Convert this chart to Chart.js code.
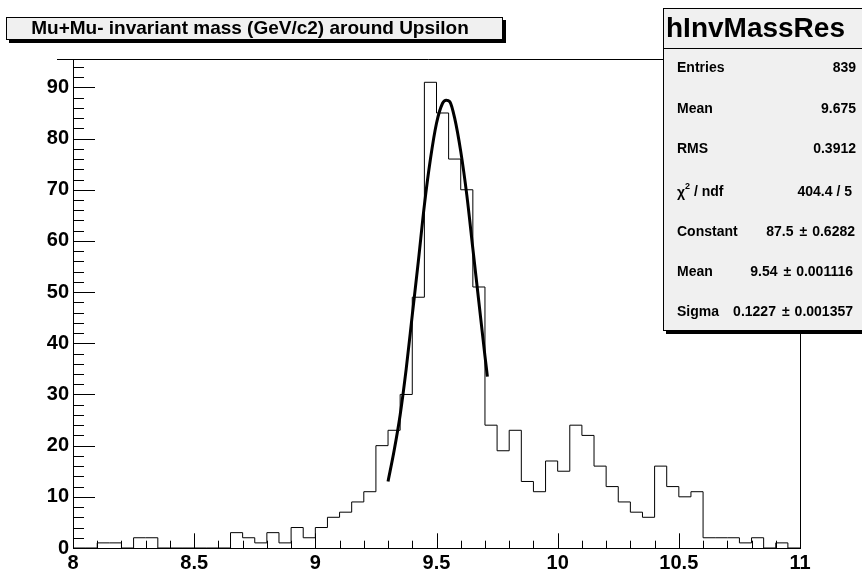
<!DOCTYPE html>
<html><head><meta charset="utf-8">
<script src="https://cdn.jsdelivr.net/npm/chart.js@4/dist/chart.umd.min.js"></script>
<style>html,body{margin:0;padding:0;background:#fff;overflow:hidden}#wrap{position:relative;width:862px;height:573px}</style>
</head><body><div id="wrap"><canvas id="c" width="862" height="573"></canvas></div>
<script>
// ---- data ----
const binEdges = [8.00,8.05,8.10,8.15,8.20,8.25,8.30,8.35,8.40,8.45,8.50,8.55,8.60,8.65,8.70,8.75,8.80,8.85,8.90,8.95,
  9.00,9.05,9.10,9.15,9.20,9.25,9.30,9.35,9.40,9.45,9.50,9.55,9.60,9.65,9.70,9.75,9.80,9.85,9.90,9.95,
  10.00,10.05,10.10,10.15,10.20,10.25,10.30,10.35,10.40,10.45,10.50,10.55,10.60,10.65,10.70,10.75,10.80,10.85,10.90,10.95,11.00];
const counts = [0,0,1,1,0,2,2,0,0,0,0,0,0,3,2,1,3,1,4,2,
  4,6,7,9,11,20,23,30,49,91,85,76,70,51,24,19,23,13,11,17,
  15,24,22,16,12,9,7,6,16,12,10,11,2,2,2,1,2,0,1,0];
const fitX = [9.300,9.325,9.350,9.375,9.400,9.425,9.450,9.475,9.500,9.525,9.540,9.555,9.575,9.600,9.625,9.650,9.675,9.700,9.710];
const fitY = [13,19,26,35,45.5,56,67,76,83,86.9,87.5,87.2,84,77.5,69,58.5,48,37.5,33.5];
const xTickValues = [8,8.5,9,9.5,10,10.5,11];
const xTickLabels = ['8','8.5','9','9.5','10','10.5','11'];
const yTickValues = [0,10,20,30,40,50,60,70,80,90];
const yTickLabels = ['0','10','20','30','40','50','60','70','80','90'];
const titleText = 'Mu+Mu- invariant mass (GeV/c2) around Upsilon';
const statsName = 'hInvMassRes';
const statsLabels = ['Entries','Mean','RMS','CHI2','Constant','Mean','Sigma'];
const statsValues = ['839','9.675','0.3912','404.4 / 5','87.5','9.54','0.1227'];
const statsErrors = ['','','','','0.6282','0.001116','0.001357'];

const FONT = "'Liberation Sans', Arial, Helvetica, sans-serif";
const histData = counts.map((v,i)=>({x:binEdges[i], y:v}));
histData.push({x:binEdges[binEdges.length-1], y:counts[counts.length-1]});
const fitData = fitX.map((x,i)=>({x, y:fitY[i]}));

const decor = {
  id:'decor',
  beforeDatasetsDraw(chart){
    const {ctx, chartArea:a, scales:{x,y}} = chart;
    ctx.save();
    ctx.strokeStyle='#000'; ctx.lineWidth=1;
    // frame top and right
    ctx.beginPath();
    ctx.moveTo(57, Math.round(a.top)+0.5); ctx.lineTo(a.right+0.5, Math.round(a.top)+0.5);
    ctx.moveTo(Math.round(a.right)+0.5, a.top); ctx.lineTo(Math.round(a.right)+0.5, a.bottom);
    ctx.stroke();
    // x ticks (inward)
    ctx.beginPath();
    for(let k=0;k<=30;k++){
      const v=8+k*0.1; const px=Math.round(x.getPixelForValue(v))+0.5;
      const len = (k%5===0)?14.7:7.3;
      ctx.moveTo(px,a.bottom); ctx.lineTo(px,a.bottom-len);
    }
    // y ticks (inward)
    for(let k=0;k<=47;k++){
      const v=k*2; if(v>y.max) break;
      const py=Math.round(y.getPixelForValue(v))+0.5;
      const len = (k%5===0)?22:11;
      ctx.moveTo(a.left,py); ctx.lineTo(a.left+len,py);
    }
    ctx.stroke();
    ctx.restore();
  },
  afterDraw(chart){
    const {ctx} = chart;
    ctx.save();
    // ---- title box ----
    ctx.fillStyle='#000';
    ctx.fillRect(9,20,497,23); // shadow
    ctx.fillStyle='#f0f0f0';
    ctx.fillRect(6,17,497,23);
    ctx.strokeStyle='#000'; ctx.lineWidth=1;
    ctx.strokeRect(6.5,17.5,496,22);
    ctx.fillStyle='#000';
    ctx.font='bold 19px '+FONT;
    ctx.textAlign='center'; ctx.textBaseline='middle';
    ctx.fillText(titleText, 250, 29);
    // ---- stats box ----
    ctx.fillStyle='#000';
    ctx.fillRect(666,11,210,323); // shadow
    ctx.fillStyle='#f0f0f0';
    ctx.fillRect(663,8,210,323);
    ctx.strokeRect(663.5,8.5,210,322);
    ctx.beginPath(); ctx.moveTo(663,48.5); ctx.lineTo(862,48.5); ctx.stroke();
    ctx.fillStyle='#000';
    ctx.font='bold 28px '+FONT;
    ctx.textAlign='left'; ctx.textBaseline='middle';
    ctx.fillText(statsName, 666, 29);
    const rowY=[68,109,149,192,232,272,312];
    ctx.font='bold 14px '+FONT;
    for(let i=0;i<statsLabels.length;i++){
      ctx.textAlign='left';
      ctx.font='bold 14px '+FONT;
      if(statsLabels[i]==='CHI2'){
        ctx.fillText('\u03c7',677,rowY[i]+1);
        const w=ctx.measureText('\u03c7').width;
        ctx.font='bold 9px '+FONT;
        ctx.fillText('2',677+w,rowY[i]-5);
        const w2=ctx.measureText('2').width;
        ctx.font='bold 14px '+FONT;
        ctx.fillText(' / ndf',677+w+w2,rowY[i]);
        ctx.textAlign='right';
        ctx.fillText(statsValues[i],852,rowY[i]);
      } else if(statsErrors[i]){
        ctx.fillText(statsLabels[i],677,rowY[i]);
        ctx.textAlign='right';
        const errRight = (i===4)?855:853;
        ctx.fillText(statsErrors[i],errRight,rowY[i]);
        const ew=ctx.measureText(statsErrors[i]).width;
        const pmRight=errRight-ew-5;
        ctx.fillText('\u00b1',pmRight,rowY[i]);
        const pw=ctx.measureText('\u00b1').width;
        ctx.fillText(statsValues[i],pmRight-pw-6,rowY[i]);
      } else {
        ctx.fillText(statsLabels[i],677,rowY[i]);
        ctx.textAlign='right';
        ctx.fillText(statsValues[i],856,rowY[i]);
      }
    }
    ctx.restore();
  }
};

new Chart(document.getElementById('c'), {
  type:'line',
  data:{datasets:[
    {data:fitData, borderColor:'#000', borderWidth:3, pointRadius:0, fill:false, tension:0.4, cubicInterpolationMode:'monotone', order:1},
    {data:histData, borderColor:'#000', borderWidth:1, pointRadius:0, fill:false, stepped:true, order:2}
  ]},
  options:{
    responsive:false, animation:false, devicePixelRatio:1,
    layout:{padding:{left:0,top:59,right:62,bottom:0}},
    plugins:{legend:{display:false}, tooltip:{enabled:false}, title:{display:false}},
    scales:{
      x:{type:'linear', min:8, max:11,
        afterFit(s){s.height=25;},
        grid:{display:false, drawTicks:false},
        border:{display:true,color:'#000',width:1},
        afterBuildTicks(s){s.ticks=xTickValues.map(v=>({value:v}));},
        ticks:{autoSkip:false, maxRotation:0, padding:3, color:'#000',
          font:{family:FONT, weight:'bold', size:20},
          callback:(v)=>{const i=xTickValues.indexOf(v); return i>=0?xTickLabels[i]:'';}}
      },
      y:{type:'linear', min:0, max:95.55,
        afterFit(s){s.width=73;},
        grid:{display:false, drawTicks:false},
        border:{display:true,color:'#000',width:1},
        afterBuildTicks(s){s.ticks=yTickValues.map(v=>({value:v}));},
        ticks:{autoSkip:false, padding:4, color:'#000',
          font:{family:FONT, weight:'bold', size:20},
          callback:(v)=>{const i=yTickValues.indexOf(v); return i>=0?yTickLabels[i]:'';}}
      }
    }
  },
  plugins:[decor]
});
</script></body></html>
